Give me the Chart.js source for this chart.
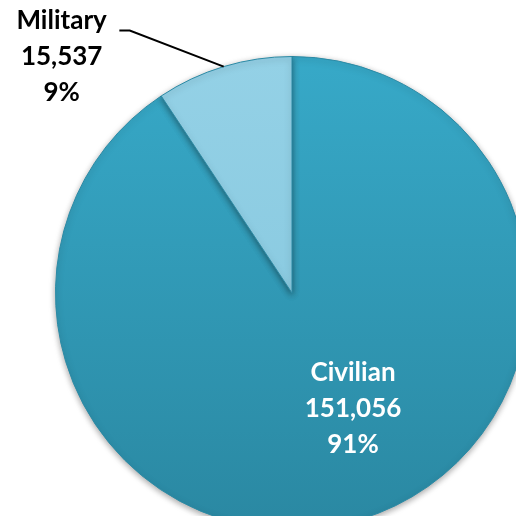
<!DOCTYPE html>
<html>
<head>
<meta charset="utf-8">
<script src="https://cdn.jsdelivr.net/npm/chart.js@4"></script>
<style>
  html, body { margin: 0; padding: 0; width: 516px; height: 516px; overflow: hidden; background: #fff; }
  #wrap { position: absolute; left: 0; top: 0; width: 530px; height: 531px; }
</style>
</head>
<body>
<div id="wrap"><canvas id="pieChart"></canvas></div>
<script>
// dados do gráfico
const categories = ['Civilian', 'Military'];
const values = [151056, 15537];

const total = values.reduce((a, b) => a + b, 0);

// gradiente de cima para baixo em cada fatia
function sliceGradient(context) {
    const chart = context.chart;
    const area = chart.chartArea;
    if (!area) return '#2f9bb9';
    const g = chart.ctx.createLinearGradient(0, area.top, 0, area.bottom);
    if (context.dataIndex === 0) {
        g.addColorStop(0, '#37a9c8');
        g.addColorStop(1, '#2a88a2');
    } else {
        g.addColorStop(0, '#94d1e6');
        g.addColorStop(1, '#82c5dc');
    }
    return g;
}

// sombra suave em volta do círculo
const shadowPlugin = {
    id: 'shadow',
    beforeDatasetsDraw(chart) {
        const ctx = chart.ctx;
        ctx.save();
        ctx.shadowColor = 'rgba(0,0,0,0.35)';
        ctx.shadowBlur = 6;
        ctx.shadowOffsetX = 0;
        ctx.shadowOffsetY = 2;
    },
    afterDatasetsDraw(chart) {
        chart.ctx.restore();
    }
};

// rótulos: nome, valor e percentagem
const labelPlugin = {
    id: 'sliceLabels',
    afterDraw(chart) {
        const ctx = chart.ctx;
        const meta = chart.getDatasetMeta(0);
        ctx.save();
        ctx.font = 'bold 26px Lato, sans-serif';
        ctx.textAlign = 'center';
        ctx.textBaseline = 'middle';
        meta.data.forEach((arc, i) => {
            const r = arc.outerRadius;
            const pct = Math.round(values[i] / total * 100) + '%';
            const lines = [categories[i], values[i].toLocaleString('en-US'), pct];
            let x, y;
            if (i === 0) {
                ctx.fillStyle = '#ffffff';
                x = arc.x + 0.258 * r;
                y = arc.y + 0.49 * r;
            } else {
                ctx.fillStyle = '#000000';
                x = arc.x - 0.974 * r;
                y = arc.y - 1.0 * r;
                // linha de chamada
                const mid = (arc.startAngle + arc.endAngle) / 2;
                const ex = arc.x + Math.cos(mid) * r;
                const ey = arc.y + Math.sin(mid) * r;
                ctx.beginPath();
                ctx.strokeStyle = '#000000';
                ctx.lineWidth = 2;
                ctx.moveTo(ex, ey);
                ctx.lineTo(arc.x - 0.686 * r, arc.y - 1.11 * r);
                ctx.lineTo(arc.x - 0.73 * r, arc.y - 1.11 * r);
                ctx.stroke();
            }
            lines.forEach((t, k) => {
                ctx.fillText(t, x, y + (k - 1) * 36);
            });
        });
        ctx.restore();
    }
};

const ctx = document.getElementById('pieChart');
new Chart(ctx, {
    type: 'pie',
    data: {
        labels: categories,
        datasets: [{
            data: values,
            backgroundColor: sliceGradient,
            borderColor: '#2b8aa5',
            borderWidth: 1
        }]
    },
    options: {
        responsive: true,
        maintainAspectRatio: false,
        animation: false,
        layout: { padding: { left: 55, top: 56, right: 1, bottom: 1 } },
        plugins: {
            legend: { display: false },
            tooltip: { enabled: false }
        }
    },
    plugins: [shadowPlugin, labelPlugin]
});
</script>
</body>
</html>
